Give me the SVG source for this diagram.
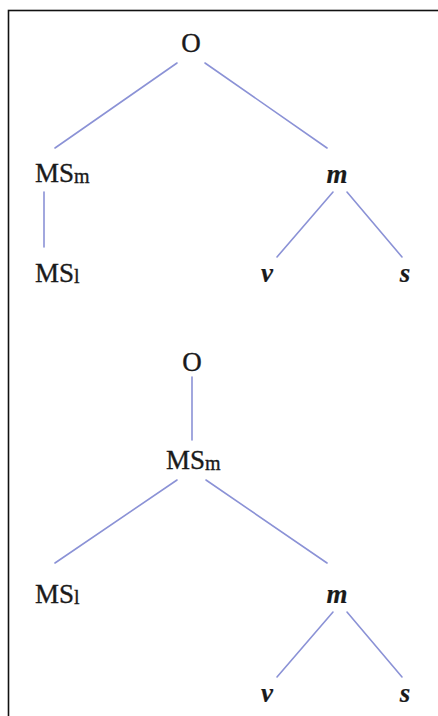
<svg xmlns="http://www.w3.org/2000/svg" width="438" height="716" viewBox="0 0 438 716">
<style>
.t{font-family:"Liberation Serif","Times New Roman",serif;font-size:27px;fill:#1a1a1a;stroke:#1a1a1a;stroke-width:0.35}
.sub{font-size:20px}
.i{font-style:italic;font-weight:bold;font-size:27px;stroke-width:0.2}
.c line{stroke:#8b92d6;stroke-width:1.6;stroke-linecap:round}
</style>
<rect x="0" y="0" width="438" height="716" fill="#ffffff"/>
<rect x="8.5" y="10.5" width="460" height="740" fill="none" stroke="#111" stroke-width="1.6"/>
<g class="c" id="connectors">
<line x1="177" y1="63" x2="55" y2="148"/>
<line x1="205" y1="63" x2="327" y2="148"/>
<line x1="44" y1="192" x2="44" y2="247" stroke="#6f8de0"/>
<line x1="333" y1="192" x2="277" y2="257"/>
<line x1="347" y1="192" x2="402" y2="257"/>
<line x1="192" y1="377" x2="192" y2="440" stroke="#6f8de0"/>
<line x1="177" y1="480" x2="55" y2="563"/>
<line x1="206" y1="480" x2="327" y2="563"/>
<line x1="333" y1="612" x2="277" y2="677"/>
<line x1="347" y1="612" x2="402" y2="677"/>
</g>
<g id="n-O1"><text class="t" x="191" y="52" text-anchor="middle">O</text></g>
<g id="n-MSm1"><text class="t" x="35" y="182">MS<tspan class="sub" dy="1">m</tspan></text></g>
<g id="n-MSl1"><text class="t" x="35" y="282">MS<tspan class="sub" dy="1">l</tspan></text></g>
<g id="n-m1"><text class="t i" x="337" y="183" text-anchor="middle">m</text></g>
<g id="n-v1"><text class="t i" x="267" y="282" text-anchor="middle">v</text></g>
<g id="n-s1"><text class="t i" x="405" y="282" text-anchor="middle">s</text></g>
<g id="n-O2"><text class="t" x="192" y="371" text-anchor="middle">O</text></g>
<g id="n-MSm2"><text class="t" x="166" y="469">MS<tspan class="sub" dy="1">m</tspan></text></g>
<g id="n-MSl2"><text class="t" x="35" y="603">MS<tspan class="sub" dy="1">l</tspan></text></g>
<g id="n-m2"><text class="t i" x="337" y="603" text-anchor="middle">m</text></g>
<g id="n-v2"><text class="t i" x="267" y="702" text-anchor="middle">v</text></g>
<g id="n-s2"><text class="t i" x="405" y="702" text-anchor="middle">s</text></g>
</svg>
